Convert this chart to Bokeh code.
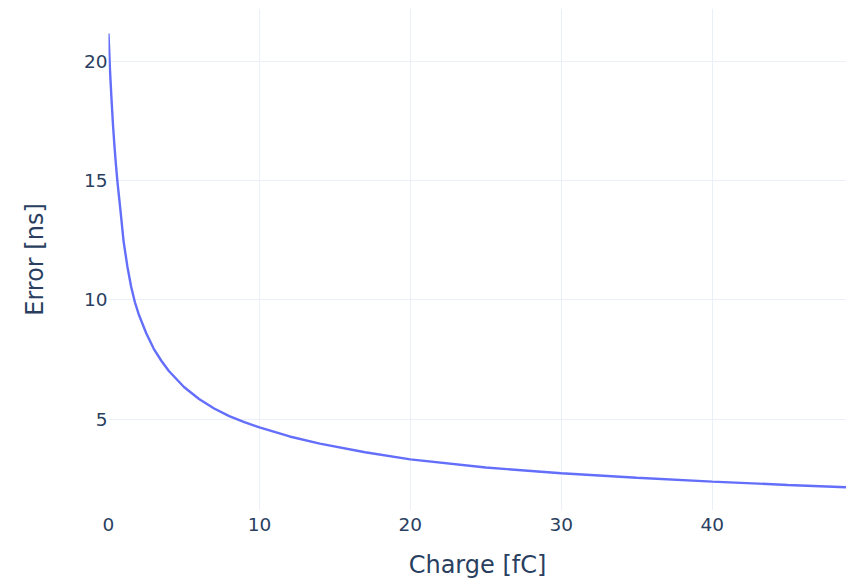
from bokeh.plotting import figure
from bokeh.models import FixedTicker, Range1d, ColumnDataSource
from bokeh.embed import file_html
from bokeh.resources import INLINE

# Timing error versus collected charge
charge_fc = [0.0, 0.1, 0.2, 0.3, 0.4, 0.5, 0.6, 0.8, 1.0, 1.25, 1.5, 1.75, 2.0,
             2.5, 3.0, 3.5, 4.0, 5.0, 6.0, 7.0, 8.0, 9.0, 10.0, 12.0, 14.0,
             17.0, 20.0, 25.0, 30.0, 35.0, 40.0, 45.0, 48.9]
error_ns = [21.15, 19.6, 18.4, 17.3, 16.4, 15.6, 14.9, 13.7, 12.45, 11.4, 10.55,
            9.9, 9.4, 8.6, 7.95, 7.45, 7.02, 6.35, 5.85, 5.45, 5.13, 4.88, 4.66,
            4.28, 3.98, 3.62, 3.32, 2.98, 2.74, 2.55, 2.39, 2.25, 2.15]

x_ticks = [0, 10, 20, 30, 40]
y_ticks = [5, 10, 15, 20]

TEXT = "#2a3f5f"
GRID = "#ebf0f8"
FONT = "DejaVu Sans"

p = figure(width=846, height=581, output_backend="svg", toolbar_location=None,
           x_range=Range1d(0, 48.9), y_range=Range1d(1.18, 22.2))
p.min_border_left = 108
p.min_border_right = 0
p.min_border_top = 8
p.min_border_bottom = 71
p.outline_line_color = None
p.background_fill_color = "white"
p.border_fill_color = "white"

src = ColumnDataSource(data=dict(x=charge_fc, y=error_ns))
p.line("x", "y", source=src, line_color="#636efa", line_width=2.4)

for ax in (p.xaxis[0], p.yaxis[0]):
    ax.axis_line_color = None
    ax.major_tick_line_color = None
    ax.minor_tick_line_color = None
    ax.major_tick_out = 0
    ax.minor_tick_out = 0
    ax.major_tick_in = 0
    ax.minor_tick_in = 0
    ax.major_label_text_font = FONT
    ax.major_label_text_font_size = "18.5px"
    ax.major_label_text_color = TEXT
    ax.axis_label_text_font = FONT
    ax.axis_label_text_font_size = "24px"
    ax.axis_label_text_color = TEXT
    ax.axis_label_text_font_style = "normal"

p.xaxis[0].ticker = FixedTicker(ticks=x_ticks)
p.yaxis[0].ticker = FixedTicker(ticks=y_ticks)
p.xaxis[0].axis_label = "Charge [fC]"
p.yaxis[0].axis_label = "Error [ns]"
p.xaxis[0].major_label_standoff = 7
p.yaxis[0].major_label_standoff = 1
p.xaxis[0].axis_label_standoff = 17
p.yaxis[0].axis_label_standoff = 32

p.xgrid.grid_line_color = GRID
p.ygrid.grid_line_color = GRID
p.xgrid.grid_line_width = 1
p.ygrid.grid_line_width = 1

open("out.html", "w").write(file_html(p, INLINE))
